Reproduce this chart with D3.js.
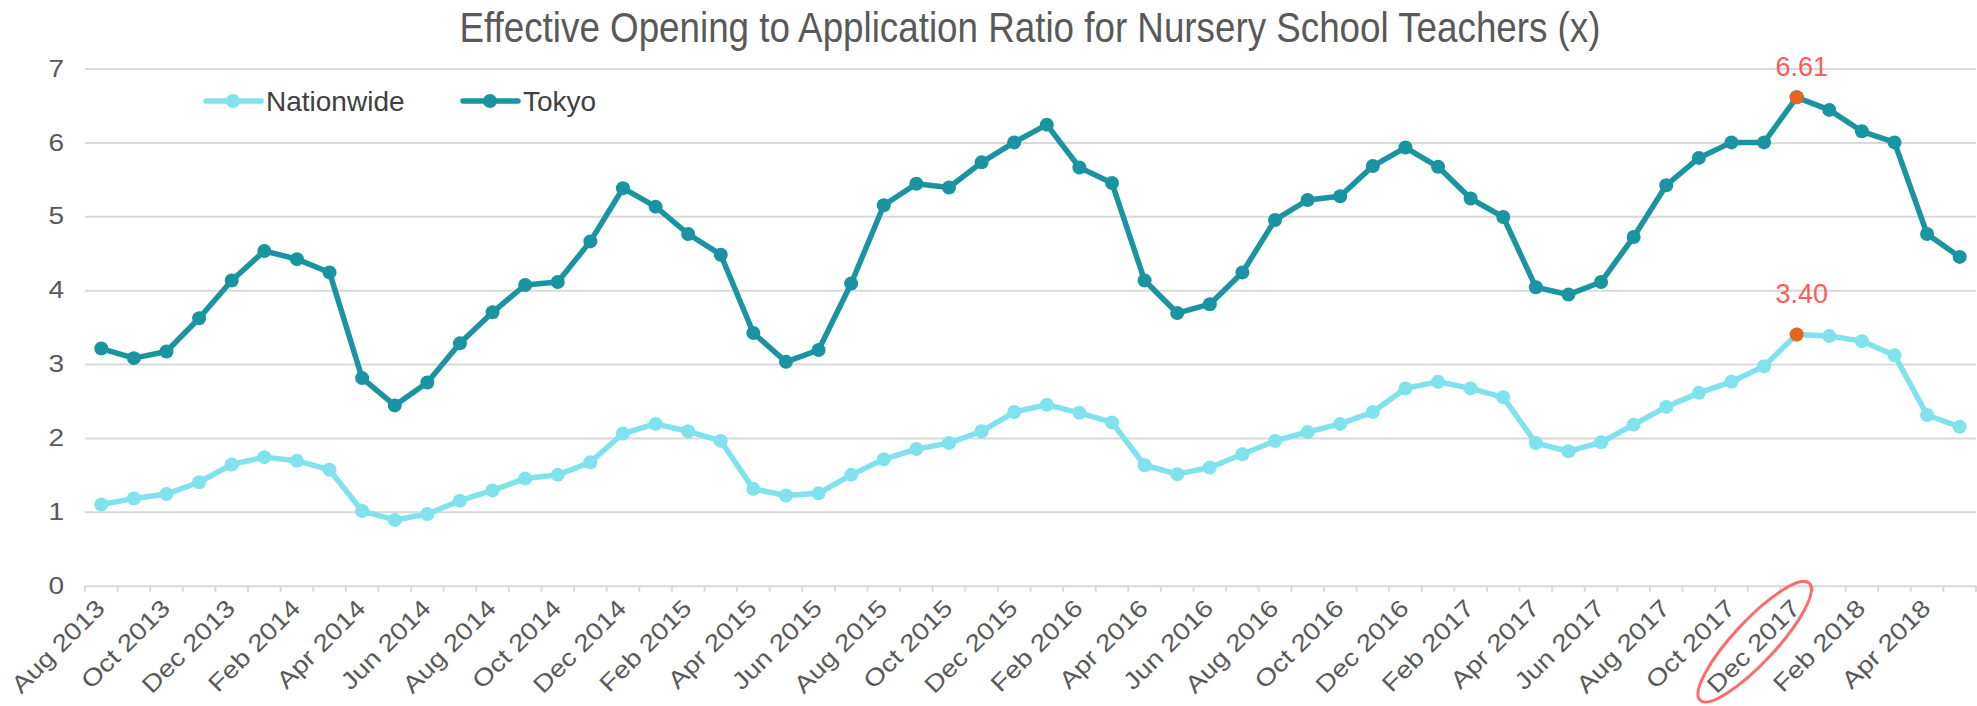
<html>
<meta charset="utf-8" />
<script src="https://d3js.org/d3.v7.min.js"></script>
<style>
  body { margin: 0; background: #fff; }
  text { font-family: "Liberation Sans", Arial, sans-serif; }
</style>
<body>
<svg id="chart" width="1977" height="706"></svg>
<script>
const months = [
  "Aug 2013", "Sep 2013", "Oct 2013", "Nov 2013", "Dec 2013",
  "Jan 2014", "Feb 2014", "Mar 2014", "Apr 2014", "May 2014", "Jun 2014", "Jul 2014",
  "Aug 2014", "Sep 2014", "Oct 2014", "Nov 2014", "Dec 2014",
  "Jan 2015", "Feb 2015", "Mar 2015", "Apr 2015", "May 2015", "Jun 2015", "Jul 2015",
  "Aug 2015", "Sep 2015", "Oct 2015", "Nov 2015", "Dec 2015",
  "Jan 2016", "Feb 2016", "Mar 2016", "Apr 2016", "May 2016", "Jun 2016", "Jul 2016",
  "Aug 2016", "Sep 2016", "Oct 2016", "Nov 2016", "Dec 2016",
  "Jan 2017", "Feb 2017", "Mar 2017", "Apr 2017", "May 2017", "Jun 2017", "Jul 2017",
  "Aug 2017", "Sep 2017", "Oct 2017", "Nov 2017", "Dec 2017",
  "Jan 2018", "Feb 2018", "Mar 2018", "Apr 2018", "May 2018"
];

const tickLabels = [
  "Aug 2013", "Oct 2013", "Dec 2013", "Feb 2014", "Apr 2014", "Jun 2014",
  "Aug 2014", "Oct 2014", "Dec 2014", "Feb 2015", "Apr 2015", "Jun 2015",
  "Aug 2015", "Oct 2015", "Dec 2015", "Feb 2016", "Apr 2016", "Jun 2016",
  "Aug 2016", "Oct 2016", "Dec 2016", "Feb 2017", "Apr 2017", "Jun 2017",
  "Aug 2017", "Oct 2017", "Dec 2017", "Feb 2018", "Apr 2018"
];

const nationwide = [
  1.10, 1.18, 1.24, 1.40, 1.64, 1.74, 1.69, 1.57, 1.01, 0.89,
  0.97, 1.15, 1.29, 1.45, 1.50, 1.67, 2.06, 2.19, 2.09, 1.96,
  1.31, 1.22, 1.25, 1.50, 1.71, 1.85, 1.93, 2.09, 2.35, 2.45,
  2.34, 2.21, 1.63, 1.51, 1.60, 1.78, 1.96, 2.08, 2.19, 2.35,
  2.67, 2.76, 2.67, 2.55, 1.93, 1.82, 1.94, 2.18, 2.42, 2.61,
  2.76, 2.97, 3.40, 3.38, 3.31, 3.12, 2.31, 2.15
];

const tokyo = [
  3.21, 3.08, 3.17, 3.62, 4.13, 4.53, 4.42, 4.24, 2.81, 2.44,
  2.75, 3.28, 3.70, 4.07, 4.11, 4.66, 5.38, 5.13, 4.76, 4.48,
  3.42, 3.03, 3.19, 4.09, 5.15, 5.44, 5.39, 5.73, 6.00, 6.24,
  5.66, 5.45, 4.13, 3.69, 3.81, 4.24, 4.95, 5.22, 5.27, 5.68,
  5.93, 5.67, 5.24, 4.99, 4.04, 3.94, 4.11, 4.72, 5.42, 5.79,
  6.00, 6.00, 6.61, 6.44, 6.15, 6.00, 4.76, 4.45
];

const highlightMonth = "Dec 2017";
const yTicks = [0, 1, 2, 3, 4, 5, 6, 7];

const series = [
  { name: "Nationwide", values: nationwide, color: "#80e2ec", labelGap: 31 },
  { name: "Tokyo", values: tokyo, color: "#1a94a0", labelGap: 21 }
];

const plotLeft = 85, plotRight = 1976, plotTop = 68.5, plotBottom = 585.7;

const x = d3.scaleBand().domain(months).range([plotLeft, plotRight]);
const y = d3.scaleLinear().domain([0, 7]).range([plotBottom, plotTop]);
const cx = (m) => x(m) + x.bandwidth() / 2;

const svg = d3.select("#chart");

// tick labels in the source use a wider face than Arial; stretch them a bit
function widen(sel, k) {
  sel.each(function () {
    const w = this.getComputedTextLength();
    d3.select(this).attr("textLength", w * k).attr("lengthAdjust", "spacingAndGlyphs");
  });
}

// title
svg.append("text")
  .attr("x", 1030)
  .attr("y", 42)
  .attr("text-anchor", "middle")
  .attr("font-size", 43)
  .attr("fill", "#595959")
  .attr("textLength", 1141)
  .attr("lengthAdjust", "spacingAndGlyphs")
  .text("Effective Opening to Application Ratio for Nursery School Teachers (x)");

// gridlines + y labels
const yAxis = svg.append("g")
  .attr("transform", `translate(${plotLeft},0)`)
  .call(d3.axisLeft(y).tickValues(yTicks).tickFormat(d3.format("d"))
    .tickSize(-(plotRight - plotLeft)).tickPadding(21));
yAxis.select(".domain").remove();
yAxis.selectAll("line").attr("stroke", "#d9d9d9").attr("stroke-width", 2);
yAxis.selectAll("text")
  .attr("font-size", 24)
  .attr("fill", "#595959")
  .style("font-family", "'Liberation Sans', Arial, sans-serif")
  .call(widen, 1.17);

// month tick marks at band edges
svg.append("g")
  .selectAll("line")
  .data(months.concat(["end"]))
  .join("line")
  .attr("x1", (m) => (m === "end" ? plotRight : x(m)))
  .attr("x2", (m) => (m === "end" ? plotRight : x(m)))
  .attr("y1", plotBottom)
  .attr("y2", plotBottom + 6)
  .attr("stroke", "#d9d9d9")
  .attr("stroke-width", 2);

// x labels
const xAxis = svg.append("g")
  .attr("transform", `translate(0,${plotBottom})`)
  .call(d3.axisBottom(x).tickValues(tickLabels).tickSize(0));
xAxis.select(".domain").remove();
xAxis.selectAll("text")
  .attr("y", 0)
  .attr("dy", "0.35em")
  .attr("transform", "translate(-1,18) rotate(-45)")
  .attr("text-anchor", "end")
  .attr("font-size", 24)
  .attr("fill", "#595959")
  .style("font-family", "'Liberation Sans', Arial, sans-serif")
  .call(widen, 1.17);

// lines
const line = d3.line().x((d, i) => cx(months[i])).y((d) => y(d));

series.forEach((s) => {
  const g = svg.append("g");
  g.append("path")
    .datum(s.values)
    .attr("fill", "none")
    .attr("stroke", s.color)
    .attr("stroke-width", 5.5)
    .attr("stroke-linejoin", "round")
    .attr("d", line);
  g.selectAll("circle")
    .data(s.values)
    .join("circle")
    .attr("cx", (d, i) => cx(months[i]))
    .attr("cy", (d) => y(d))
    .attr("r", 7)
    .attr("fill", s.color);
});

// highlighted peak
series.forEach((s) => {
  const v = s.values[months.indexOf(highlightMonth)];
  svg.append("circle")
    .attr("cx", cx(highlightMonth))
    .attr("cy", y(v))
    .attr("r", 7)
    .attr("fill", "#e8641e");
  svg.append("text")
    .attr("x", cx(highlightMonth) + 5)
    .attr("y", y(v) - s.labelGap)
    .attr("text-anchor", "middle")
    .attr("font-size", 27)
    .attr("fill", "#ff5b5b")
    .text(v.toFixed(2));
});

// ring round the Dec 2017 label
svg.append("ellipse")
  .attr("transform", `translate(${cx(highlightMonth) - 42},${plotBottom + 56}) rotate(-47)`)
  .attr("rx", 80)
  .attr("ry", 21)
  .attr("fill", "none")
  .attr("stroke", "#ff6b6b")
  .attr("stroke-width", 3);

// legend
const legend = svg.append("g");
const legendX = [206, 463];
series.forEach((s, i) => {
  const g = legend.append("g").attr("transform", `translate(${legendX[i]},101)`);
  g.append("line").attr("x1", 0).attr("x2", 55)
    .attr("stroke", s.color).attr("stroke-width", 5.5).attr("stroke-linecap", "round");
  g.append("circle").attr("cx", 27).attr("r", 7).attr("fill", s.color);
  g.append("text").attr("x", 60).attr("y", 10)
    .attr("font-size", 28).attr("fill", "#404040").text(s.name);
});
</script>
</body>
</html>
